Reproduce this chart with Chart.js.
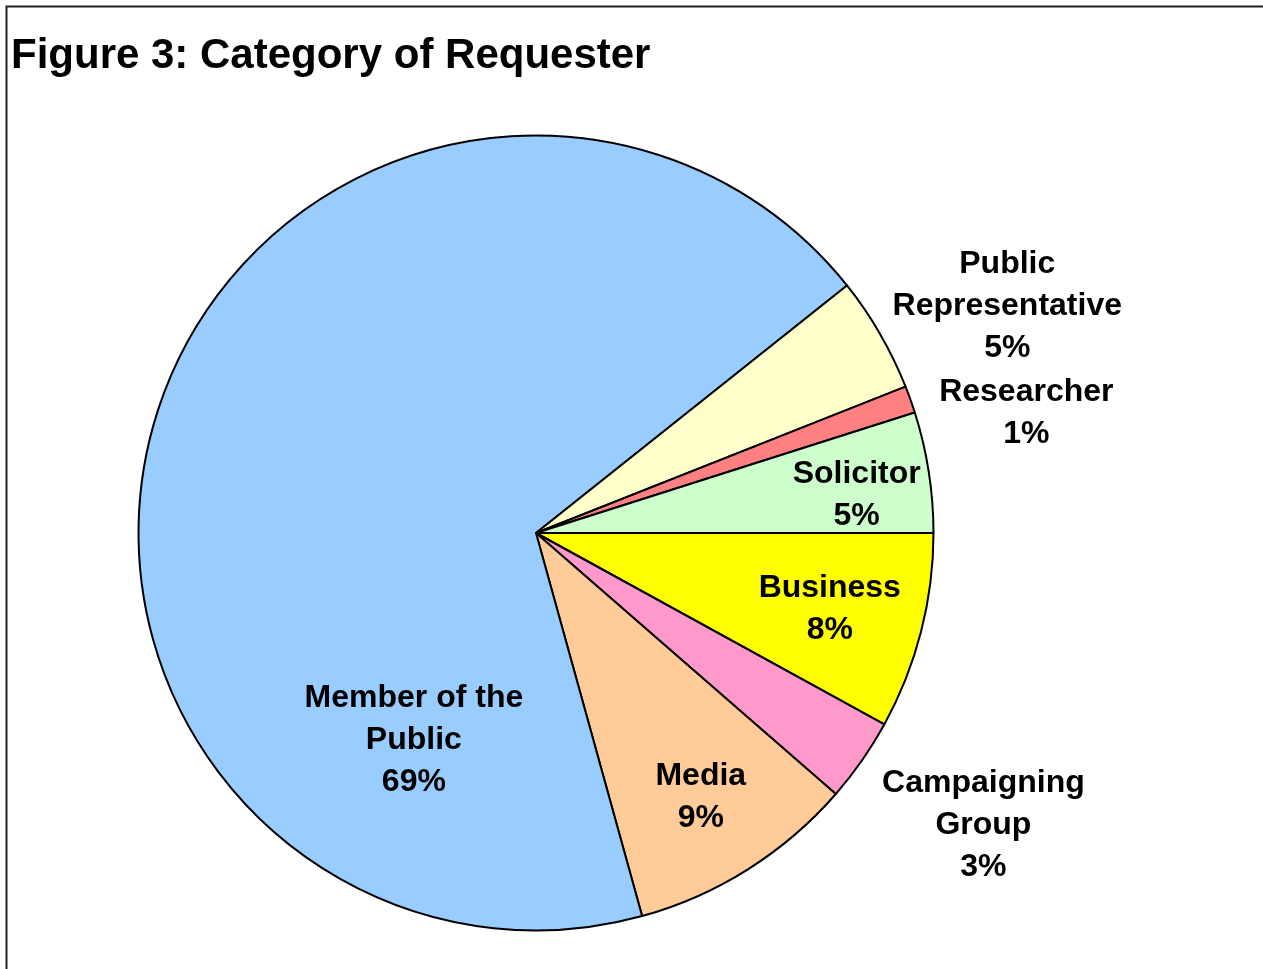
<!DOCTYPE html>
<html>
<head>
<meta charset="utf-8">
<title>Figure 3: Category of Requester</title>
<script src="https://cdn.jsdelivr.net/npm/chart.js@4/dist/chart.umd.min.js"></script>
<style>
  html, body { margin: 0; padding: 0; background: #fff; }
  canvas { display: block; }
</style>
</head>
<body>
<canvas id="requesterChart" width="1263" height="969"></canvas>
<script>
// categories, clockwise from 3 o'clock
const categories = [
  ['Business'],
  ['Campaigning', 'Group'],
  ['Media'],
  ['Member of the', 'Public'],
  ['Public', 'Representative'],
  ['Researcher'],
  ['Solicitor']
];
// share of requests (%)
const shares = [8.0, 3.4, 9.3, 68.6, 4.7, 1.1, 4.9];
const sliceColors = ['#FFFF00', '#FF99CC', '#FFCC99', '#99CCFF', '#FFFFCC', '#FF8080', '#CCFFCC'];
// where each label sits: [angle in degrees from 3 o'clock, distance as fraction of radius]
const labelSpots = [
  [14.1, 0.762],
  [33.0, 1.342],
  [57.8, 0.778],
  [120.8, 0.600],
  [-25.9, 1.318],
  [-13.95, 1.271],
  [-7.1, 0.813]
];

const labelFont = 'bold 32px "Liberation Sans", Arial, sans-serif';
const lineGap = 42;

// outer frame and heading
const framePlugin = {
  id: 'frame',
  beforeDraw(chart) {
    const ctx = chart.ctx;
    ctx.save();
    ctx.fillStyle = '#fff';
    ctx.fillRect(0, 0, chart.width, chart.height);
    ctx.strokeStyle = '#222';
    ctx.lineWidth = 2;
    ctx.strokeRect(6.5, 6.5, chart.width + 20, chart.height + 20);
    ctx.fillStyle = '#000';
    ctx.font = 'bold 42px "Liberation Sans", Arial, sans-serif';
    ctx.textAlign = 'left';
    ctx.textBaseline = 'alphabetic';
    ctx.fillText('Figure 3: Category of Requester', 11, 68);
    ctx.restore();
  }
};

// category name + rounded percentage beside each slice
const sliceLabels = {
  id: 'sliceLabels',
  afterDatasetsDraw(chart) {
    const ctx = chart.ctx;
    const arcs = chart.getDatasetMeta(0).data;
    const values = chart.data.datasets[0].data;
    const total = values.reduce((a, b) => a + b, 0);
    ctx.save();
    ctx.font = labelFont;
    ctx.fillStyle = '#000';
    ctx.textAlign = 'center';
    ctx.textBaseline = 'middle';
    arcs.forEach((arc, i) => {
      const [deg, k] = labelSpots[i];
      const a = deg * Math.PI / 180;
      const x = arc.x + Math.cos(a) * arc.outerRadius * k;
      const y = arc.y + Math.sin(a) * arc.outerRadius * k + 2;
      const lines = categories[i].concat([Math.round(values[i] / total * 100) + '%']);
      const top = y - (lines.length - 1) * lineGap / 2;
      lines.forEach((t, j) => ctx.fillText(t, x, top + j * lineGap));
    });
    ctx.restore();
  }
};

new Chart(document.getElementById('requesterChart'), {
  type: 'pie',
  data: {
    labels: categories.map(c => c.join(' ')),
    datasets: [{
      data: shares,
      backgroundColor: sliceColors,
      borderColor: '#000',
      borderWidth: 2
    }]
  },
  options: {
    responsive: false,
    animation: false,
    rotation: 90,
    layout: {
      padding: { left: 137.5, right: 328.5, top: 134.5, bottom: 37.5 }
    },
    plugins: {
      legend: { display: false },
      tooltip: { enabled: false },
      title: { display: false }
    }
  },
  plugins: [framePlugin, sliceLabels]
});
</script>
</body>
</html>
